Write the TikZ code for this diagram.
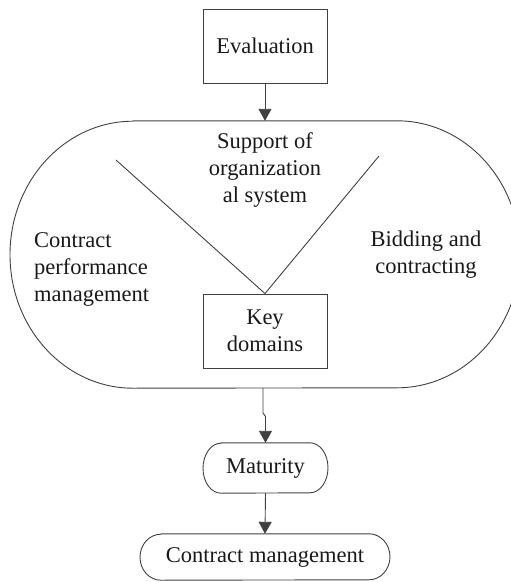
\documentclass[tikz,border=0pt]{standalone}
\usepackage{fontspec}
\setmainfont{Liberation Serif}
\usetikzlibrary{arrows.meta}
\begin{document}
\begin{tikzpicture}[x=1pt,y=-1pt,
  every node/.style={font=\fontsize{22.5}{27}\selectfont, text=black!90, inner sep=0pt},
  line/.style={draw=black!75, line width=0.9pt},
  boxnode/.style={line, rectangle, minimum width=124pt, minimum height=74pt, align=center},
  pill/.style={rectangle, minimum height=50pt},
  arr/.style={line, -{Triangle[length=12pt,width=13pt]}}
]
\useasboundingbox (0,0) rectangle (511,582);
% nodes
\node[boxnode] (eval) at (265,46) {Evaluation};
\node[boxnode] (key) at (265,331) {Key\\domains};
\node[minimum width=510pt, minimum height=267pt] (stad) at (265,254.5) {};
\node[pill, minimum width=125pt] (mat) at (265.5,468) {Maturity};
\node[pill, minimum width=250pt, minimum height=46pt] (cm) at (265,557) {Contract management};
% stadium outline
\draw[line] ([xshift=-132pt]stad.north) -- ([xshift=132pt]stad.north)
  arc[start angle=90,end angle=-90,x radius=123pt,y radius=133.5pt]
  -- ([xshift=-132pt]stad.south)
  arc[start angle=270,end angle=90,x radius=123pt,y radius=133.5pt] -- cycle;
% pill outlines
\draw[line] ([xshift=-44.5pt]mat.north) -- ([xshift=44.5pt]mat.north)
  arc[start angle=90,end angle=-90,x radius=18pt,y radius=25pt]
  -- ([xshift=-44.5pt]mat.south)
  arc[start angle=270,end angle=90,x radius=18pt,y radius=25pt] -- cycle;
\draw[line] ([xshift=-104pt]cm.north) -- ([xshift=104pt]cm.north)
  arc[start angle=90,end angle=-90,x radius=21pt,y radius=23pt]
  -- ([xshift=-104pt]cm.south)
  arc[start angle=270,end angle=90,x radius=21pt,y radius=23pt] -- cycle;
% texts inside
\node[align=center] (sup) at (265,170) {Support of\\organization\\al system};
\node[align=left, anchor=west] (cpm) at (34,269) {Contract\\performance\\management};
\node[align=center] (bid) at (426,254.5) {Bidding and\\contracting};
% V lines
\coordinate (vl) at (116,160);
\coordinate (vr) at (379,156);
\draw[line] (vl) -- (key.north) -- (vr);
% arrows
\draw[arr] (eval.south) -- (stad.north);
\coordinate (j1) at (263,413);
\coordinate (j2) at (265.5,416.5);
\draw[arr] (stad.south -| j1) -- (j1) -- (j2) -- (mat.north);
\draw[arr] (mat.south) -- (cm.north);
\end{tikzpicture}
\end{document}
